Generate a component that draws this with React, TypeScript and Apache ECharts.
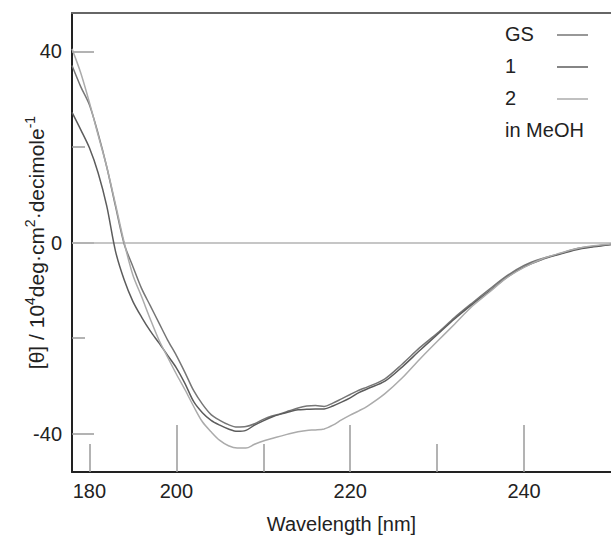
import React, { useEffect, useRef } from "react";
import * as echarts from "echarts";

const wavelengths = [
  188, 189, 190, 191, 192, 193, 194, 195, 196, 197, 198, 199, 200, 201, 202, 203, 204, 205, 206, 207,
  208, 209, 210, 211, 212, 213, 214, 215, 216, 217, 218, 219, 220, 221, 222,
  224, 226, 228, 230, 232, 234, 236, 238, 240, 242, 244, 246, 248, 250,
];

const gsValues = [
  37.0, 32.6, 28.8, 22.8, 15.8, 7.6, -0.3, -5.0, -9.6, -13.2, -16.8, -20.4, -23.6, -27.2, -31.0, -33.8,
  -36.0, -37.2, -38.1, -38.6, -38.5, -37.9, -37.0, -36.3, -35.8, -35.2, -34.6, -34.2, -34.1, -34.3,
  -33.6, -32.7, -31.8, -30.9, -30.2,
  -28.5, -25.4, -22.0, -19.0, -15.7, -12.7, -9.8, -7.0, -4.8, -3.4, -2.4, -1.3, -0.8, -0.4,
];

const series1Values = [
  27.2, 23.6, 19.8, 14.6, 7.6, -1.8, -7.8, -12.3, -15.6, -18.5, -21.0, -23.6, -26.2, -29.5, -33.3, -35.6,
  -37.2, -38.2, -39.0, -39.5, -39.3, -38.2, -37.3, -36.5, -35.9, -35.4, -35.0, -34.9, -34.8, -34.8,
  -34.2, -33.4, -32.5, -31.4, -30.6,
  -29.0, -26.0, -22.6, -19.3, -16.0, -13.0, -10.2, -7.3, -5.1, -3.6, -2.5, -1.5, -0.9, -0.4,
];

const series2Values = [
  40.5, 35.5, 29.3, 22.5, 15.8, 8.0, 0.0, -6.8, -11.3, -16.0, -20.4, -24.0, -27.5, -30.8, -34.3, -37.5,
  -39.6, -41.4, -42.5, -43.0, -43.0, -42.2, -41.5, -41.0, -40.5, -40.0, -39.6, -39.3, -39.2, -39.0,
  -38.2, -37.1, -36.1, -35.2, -34.2,
  -31.6, -28.3, -24.4, -20.7, -17.1, -13.4, -10.4, -7.4, -5.2, -3.5, -2.3, -1.3, -0.7, -0.3,
];

const seriesNames = ["GS", "1", "2"];
const seriesColors = ["#767676", "#5c5c5c", "#ababab"];

const xLabelValues = [190, 200, 220, 240];
const xLabelTexts = ["180", "200", "220", "240"];
const xLongTicks = [200, 220, 240];
const xShortTicks = [190, 210, 230];
const yLabelValues = [-40, 0, 40];
const yShortTicks = [-20, 20];
const legendNote = "in MeOH";
const yAxisTitle = "{n|[θ] / 10}{s|4}{n|deg·cm}{s|2}{n|·decimole}{s|-1}";

const FONT = "'Liberation Sans', Arial, Helvetica, sans-serif";

export default function App() {
  const ref = useRef<HTMLDivElement>(null);
  useEffect(() => {
    if (!ref.current) return;
    const chart = echarts.init(ref.current, undefined, { renderer: "svg" });
    const allValues = [gsValues, series1Values, series2Values];
    const tickStyle = { color: "#9a9a9a", width: 1.5 };
    const xBase = { type: "value", min: 188, max: 250, gridIndex: 0, splitLine: { show: false } };
    const yBase = { type: "value", min: -48, max: 48, gridIndex: 0, splitLine: { show: false } };

    const legendGraphics: any[] = [];
    seriesNames.forEach((n, i) => {
      const cy = 35 + i * 32;
      legendGraphics.push({
        type: "text",
        left: 505,
        top: cy - 11,
        style: { text: n, fontSize: 20, fontFamily: FONT, fill: "#222" },
      });
      legendGraphics.push({
        type: "line",
        shape: { x1: 557, y1: cy, x2: 588, y2: cy },
        style: { stroke: seriesColors[i], lineWidth: 1.5 },
      });
    });
    legendGraphics.push({
      type: "text",
      left: 505,
      top: 35 + 3 * 32 - 11,
      style: { text: legendNote, fontSize: 20, fontFamily: FONT, fill: "#222" },
    });

    chart.setOption({
      animation: false,
      backgroundColor: "#fff",
      textStyle: { fontFamily: FONT },
      grid: { left: 72, right: 0, top: 13, bottom: 64, containLabel: false, outerBoundsMode: "none" },
      xAxis: [
        {
          ...xBase,
          position: "bottom",
          axisLine: { show: true, onZero: false, lineStyle: { color: "#222", width: 2 } },
          axisTick: { show: true, inside: true, length: 47, customValues: xLongTicks, lineStyle: tickStyle },
          axisLabel: {
            show: true,
            customValues: xLabelValues,
            formatter: (v: number) => xLabelTexts[xLabelValues.indexOf(v)] ?? "",
            color: "#222",
            fontSize: 20,
            margin: 9,
            fontFamily: FONT,
          },
          name: "Wavelength [nm]",
          nameLocation: "middle",
          nameGap: 42,
          nameMoveOverlap: false,
          nameTextStyle: { color: "#222", fontSize: 20, fontFamily: FONT },
        },
        {
          ...xBase,
          position: "bottom",
          axisLine: { show: false, onZero: false },
          axisTick: { show: true, inside: true, length: 28, customValues: xShortTicks, lineStyle: tickStyle },
          axisLabel: { show: false },
        },
        {
          ...xBase,
          position: "top",
          axisLine: { show: true, onZero: false, lineStyle: { color: "#666", width: 2 } },
          axisTick: { show: false },
          axisLabel: { show: false },
        },
      ],
      yAxis: [
        {
          ...yBase,
          position: "left",
          axisLine: { show: true, onZero: false, lineStyle: { color: "#222", width: 2 } },
          axisTick: { show: true, inside: true, length: 22, customValues: yLabelValues, lineStyle: tickStyle },
          axisLabel: {
            show: true,
            customValues: yLabelValues,
            color: "#222",
            fontSize: 20,
            margin: 10,
            fontFamily: FONT,
          },
          name: yAxisTitle,
          nameLocation: "middle",
          nameGap: 25,
          nameMoveOverlap: false,
          nameTextStyle: {
            color: "#222",
            fontSize: 21,
            fontFamily: FONT,
            rich: {
              n: { fontSize: 21, fontFamily: FONT, color: "#222", lineHeight: 24, verticalAlign: "bottom" },
              s: { fontSize: 14, fontFamily: FONT, color: "#222", lineHeight: 24, verticalAlign: "top" },
            },
          },
        },
        {
          ...yBase,
          position: "left",
          axisLine: { show: false, onZero: false },
          axisTick: { show: true, inside: true, length: 13, customValues: yShortTicks, lineStyle: tickStyle },
          axisLabel: { show: false },
        },
      ],
      series: seriesNames.map((n, i) => ({
        name: n,
        type: "line",
        xAxisIndex: 0,
        yAxisIndex: 0,
        showSymbol: false,
        symbol: "none",
        smooth: 0.3,
        clip: true,
        lineStyle: { color: seriesColors[i], width: 1.5 },
        data: wavelengths.map((w, k) => [w, allValues[i][k]]),
        markLine:
          i === 0
            ? {
                silent: true,
                symbol: "none",
                label: { show: false },
                lineStyle: { color: "#b3b3b3", width: 1.5, type: "solid" },
                data: [{ yAxis: 0 }],
                z: 1,
              }
            : undefined,
      })),
      graphic: legendGraphics,
    });
    return () => chart.dispose();
  }, []);
  return <div ref={ref} style={{ position: "absolute", left: 0, top: 0, width: 611, height: 536 }} />;
}
